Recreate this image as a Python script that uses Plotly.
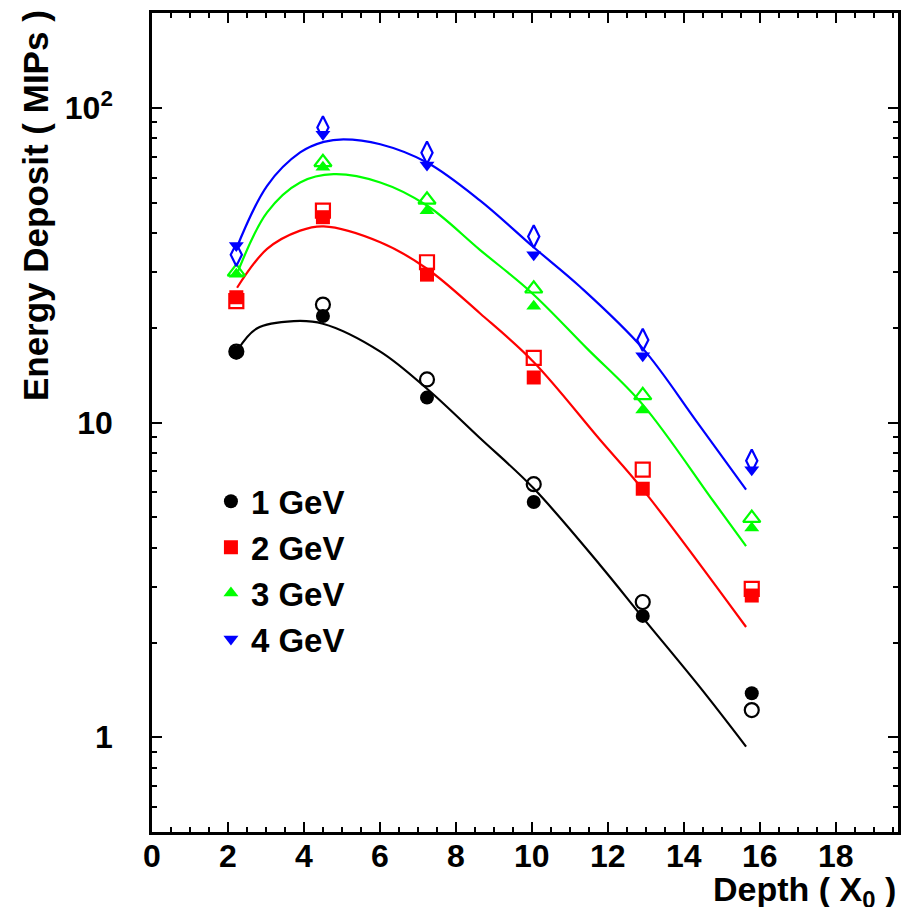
import math
import plotly.graph_objects as go

# ---------------- data ----------------
depth = [2.22, 4.50, 7.24, 10.05, 12.92, 15.79]

gev1_filled = [16.7, 21.8, 12.0, 5.59, 2.43, 1.38]
gev1_open = [16.8, 23.7, 13.7, 6.37, 2.69, 1.22]
gev2_filled = [25.0, 44.9, 29.5, 13.9, 6.16, 2.82]
gev2_open = [24.3, 47.1, 32.3, 16.05, 7.08, 2.96]
gev3_filled = [29.6, 64.7, 47.1, 23.4, 10.96, 4.62]
gev3_open = [30.1, 67.1, 51.0, 26.6, 12.2, 4.97]
gev4_filled = [36.5, 82.4, 65.8, 34.1, 16.3, 7.08]
gev4_open = [34.1, 86.6, 72.0, 39.0, 18.3, 7.56]

# fitted curves
fit1_x = [2.24, 2.76, 3.73, 4.50, 6.01, 7.24, 8.64, 10.04, 11.80, 12.92, 14.43, 15.64]
fit1_y = [16.9, 19.9, 21.0, 20.6, 16.8, 12.8, 8.91, 6.19, 3.52, 2.40, 1.44, 0.934]
fit2_x = [2.24, 3.03, 3.90, 4.52, 6.01, 7.24, 8.64, 10.04, 11.80, 12.92, 15.64]
fit2_y = [26.8, 35.6, 40.7, 42.0, 37.4, 30.8, 22.2, 15.6, 8.8, 6.13, 2.24]
fit3_x = [2.24, 3.03, 3.90, 4.78, 6.01, 7.24, 8.64, 10.00, 11.45, 12.92, 14.78, 15.64]
fit3_y = [29.7, 46.5, 57.9, 61.5, 57.9, 48.9, 35.3, 25.8, 17.2, 11.4, 5.62, 4.05]
fit4_x = [2.20, 3.03, 3.90, 4.52, 5.04, 6.01, 7.24, 8.64, 10.04, 11.27, 12.92, 14.34, 15.64]
fit4_y = [35.2, 56.5, 72.1, 77.9, 79.4, 76.6, 67.0, 50.7, 36.1, 27.0, 17.2, 10.07, 6.12]

labels = ["1 GeV", "2 GeV", "3 GeV", "4 GeV"]
colors = ["#000000", "#ff0000", "#00ff00", "#0000ff"]

y_tickvals = [1, 10, 100]
y_ticktext = ["1", "10", "10<sup>2</sup>"]
x_title = "Depth ( X<sub>0</sub> )"
y_title = "Energy Deposit ( MIPs )"

FONT = "Liberation Sans"

fig = go.Figure()

fits = [(fit1_x, fit1_y), (fit2_x, fit2_y), (fit3_x, fit3_y), (fit4_x, fit4_y)]
for (fx, fy), c in zip(fits, colors):
    fig.add_trace(go.Scatter(x=fx, y=fy, mode="lines", line=dict(color=c, width=2.2, shape="spline"),
                             showlegend=False, hoverinfo="skip"))

opens = [
    (gev1_open, "circle-open", 14),
    (gev2_open, "square-open", 14),
    (gev3_open, "triangle-up-open", 15),
    (gev4_open, "diamond-tall-open", 16),
]
for (vals, sym, sz), c in zip(opens, colors):
    fig.add_trace(go.Scatter(x=depth, y=vals, mode="markers",
                             marker=dict(symbol=sym, size=sz, color=c, line=dict(color=c, width=2.2)),
                             showlegend=False))

filled = [
    (gev1_filled, "circle", 14),
    (gev2_filled, "square", 14),
    (gev3_filled, "triangle-up", 13),
    (gev4_filled, "triangle-down", 13),
]
for (vals, sym, sz), c, lab in zip(filled, colors, labels):
    fig.add_trace(go.Scatter(x=depth, y=vals, mode="markers", name=lab,
                             marker=dict(symbol=sym, size=sz, color=c, line=dict(width=0)),
                             showlegend=True))

minor_y = [d * 10 ** e for e in range(-1, 3) for d in range(2, 10)]
minor_y = [v for v in minor_y if 0.5 <= v <= 200]

axis_common = dict(
    showline=True, linecolor="black", linewidth=2.5, mirror="ticks",
    ticks="inside", ticklen=10, tickwidth=2, tickcolor="black",
    showgrid=False, zeroline=False,
    tickfont=dict(family=FONT, size=32, color="black", weight="bold"),
)

fig.update_xaxes(
    range=[0, 19.64], tick0=0, dtick=2,
    minor=dict(dtick=0.5, ticks="inside", ticklen=5, tickwidth=1.6, tickcolor="black", showgrid=False),
    ticklabelstandoff=-6,
    **axis_common,
)
fig.update_yaxes(
    type="log", range=[math.log10(0.5), math.log10(200)],
    tickmode="array", tickvals=y_tickvals, ticktext=y_ticktext,
    minor=dict(tickmode="array", tickvals=minor_y, ticks="inside", ticklen=5, tickwidth=1.6,
               tickcolor="black", showgrid=False),
    ticklabelstandoff=30,
    **axis_common,
)

fig.add_annotation(text=x_title, xref="paper", yref="paper", x=1.0, y=-0.0725,
                   xanchor="right", yanchor="middle", showarrow=False,
                   font=dict(family=FONT, size=34, color="black", weight="bold"))
fig.add_annotation(text=y_title, xref="paper", yref="paper", x=-0.156, y=0.765,
                   xanchor="center", yanchor="middle", textangle=-90, showarrow=False,
                   font=dict(family=FONT, size=35, color="black", weight="bold"))

fig.update_layout(
    width=896, height=899,
    margin=dict(l=144, r=6, t=2, b=75),
    paper_bgcolor="white", plot_bgcolor="white",
    legend=dict(x=0.079, y=0.438, xanchor="left", yanchor="top",
                bgcolor="rgba(0,0,0,0)", borderwidth=0,
                font=dict(family=FONT, size=33, color="black", weight="bold"),
                itemsizing="trace", tracegroupgap=0),
    showlegend=True,
)

fig.write_html("out.html")
